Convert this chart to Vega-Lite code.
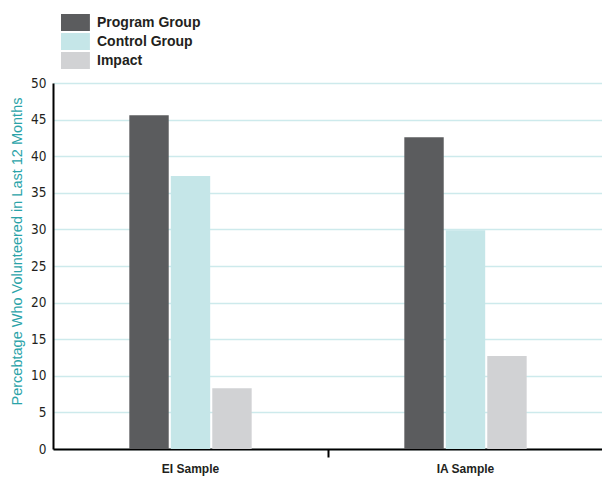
{
  "$schema": "https://vega.github.io/schema/vega-lite/v6.json",
  "autosize": "none",
  "width": 550,
  "height": 366,
  "padding": {"left": 53, "top": 83, "right": -1, "bottom": 29},
  "background": "white",
  "config": {"view": {"stroke": null}},
  "data": {
    "values": [
      {"sample": "EI Sample", "group": "Program Group", "value": 45.6},
      {"sample": "EI Sample", "group": "Control Group", "value": 37.3},
      {"sample": "EI Sample", "group": "Impact", "value": 8.3},
      {"sample": "IA Sample", "group": "Program Group", "value": 42.6},
      {"sample": "IA Sample", "group": "Control Group", "value": 29.9},
      {"sample": "IA Sample", "group": "Impact", "value": 12.7}
    ]
  },
  "mark": {"type": "bar"},
  "encoding": {
    "x": {
      "field": "sample",
      "type": "nominal",
      "scale": {"paddingInner": 0, "paddingOuter": 0},
      "axis": {
        "title": null,
        "labelAngle": 0,
        "bandPosition": 0,
        "labelFont": "Liberation Sans",
        "labelFontSize": 12,
        "labelFontWeight": "bold",
        "labelColor": "#231f20",
        "labelPadding": 6,
        "domainColor": "#000000",
        "domainWidth": 2,
        "tickColor": {"condition": {"test": "datum.value === 'EI Sample'", "value": "transparent"}, "value": "#000000"},
        "tickWidth": 2,
        "tickSize": 8,
        "labelOffset": 0
      }
    },
    "xOffset": {
      "field": "group",
      "type": "nominal",
      "scale": {
        "domain": ["pad1", "Program Group", "Control Group", "Impact", "pad2"],
        "paddingInner": 0.05,
        "paddingOuter": 0.84
      }
    },
    "y": {
      "field": "value",
      "type": "quantitative",
      "scale": {"domain": [0, 50], "nice": false},
      "axis": {
        "values": [0, 5, 10, 15, 20, 25, 30, 35, 40, 45, 50],
        "title": "Percebtage Who Volunteered in Last 12 Months",
        "titleFont": "Liberation Sans",
        "titleFontSize": 14.5,
        "titleFontWeight": "normal",
        "titleColor": "#2aa3a8",
        "titleX": -36,
        "titleY": 168,
        "titleAlign": "center",
        "titleBaseline": "middle",
        "labelFont": "DejaVu Sans Condensed, Liberation Sans",
        "labelFontSize": 13.5,
        "labelColor": "#231f20",
        "labelPadding": 7,
        "ticks": false,
        "domainColor": "#000000",
        "domainWidth": 2,
        "grid": true,
        "gridColor": "#cdeaec",
        "gridWidth": 1.5
      }
    },
    "color": {
      "field": "group",
      "type": "nominal",
      "scale": {
        "domain": ["Program Group", "Control Group", "Impact"],
        "range": ["#5b5c5e", "#c5e6e8", "#d1d2d4"]
      },
      "legend": {
        "title": null,
        "orient": "none",
        "legendX": 8,
        "legendY": -69,
        "padding": 0,
        "symbolType": "M-1,-1H2.4V1H-1Z",
        "symbolSize": 289,
        "symbolStrokeWidth": 0,
        "symbolOpacity": 1,
        "labelOffset": 19,
        "labelFont": "Liberation Sans",
        "labelFontSize": 14,
        "labelFontWeight": "bold",
        "labelColor": "#231f20",
        "rowPadding": 2
      }
    }
  }
}
